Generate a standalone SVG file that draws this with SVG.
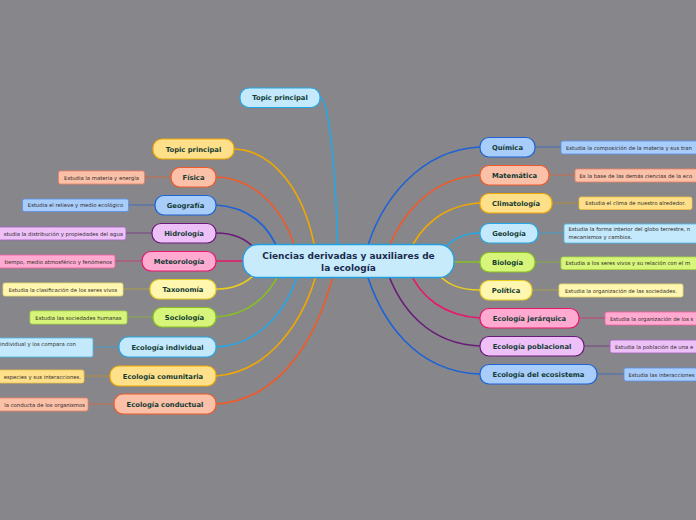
<svg xmlns="http://www.w3.org/2000/svg" width="696" height="520" viewBox="0 0 696 520">
<style>
.bg{fill:#87878b}
.c{fill:none;stroke-width:1.6;stroke-linecap:round}
.d{fill:none;stroke-width:0.9;opacity:0.7}
.n{stroke-width:1.2}
.nt{font-family:"DejaVu Sans",Verdana,sans-serif;font-weight:bold;font-size:6.8px;fill:#123b34;text-anchor:middle}
.dt{font-family:"DejaVu Sans",Verdana,sans-serif;font-size:5.3px;fill:#2e2a2a}
.ds{stroke-width:0.8}
.blue{fill:#a9cdfa;stroke:#1d62d6}
.red{fill:#fbc0a8;stroke:#f05a28}
.org{fill:#ffe08a;stroke:#f0a800}
.cyan{fill:#c4e9fc;stroke:#22a8e8}
.grn{fill:#d7f57a;stroke:#88c020}
.yel{fill:#fff6b0;stroke:#e8cc20}
.pnk{fill:#ffabd1;stroke:#e8166c}
.pur{fill:#edc0f8;stroke:#6a1b7a}
.dblue{fill:#a9cdfa;stroke:#5a8fe8}
.dred{fill:#fbc0a8;stroke:#f08060}
.dorg{fill:#ffe08a;stroke:#f0c040}
.dcyan{fill:#c4e9fc;stroke:#4ab8ec}
.dgrn{fill:#d7f57a;stroke:#a8d840}
.dyel{fill:#fff6b0;stroke:#e6dc70}
.dpnk{fill:#ffabd1;stroke:#f060a0}
.dpur{fill:#edc0f8;stroke:#a060b8}
</style>
<rect class="bg" x="0" y="0" width="696" height="520"/>
<g id="connectors">
<path class="c" stroke="#22a8e8" d="M320,97 C330,100 336,180 338,255"/>
<path class="c" stroke="#f0a800" d="M234,149 C272,150 306,190 316,255"/>
<path class="c" stroke="#f05a28" d="M216,177 C255,178 286,210 297,255"/>
<path class="c" stroke="#1d62d6" d="M216,205 C248,207 270,225 280,255"/>
<path class="c" stroke="#6a1b7a" d="M216,233 C236,233 250,240 260,255"/>
<path class="c" stroke="#e8166c" d="M216,261 L255,261"/>
<path class="c" stroke="#e8cc20" d="M216,289 C236,289 250,282 260,268"/>
<path class="c" stroke="#88c020" d="M216,317 C250,315 270,295 282,268"/>
<path class="c" stroke="#22a8e8" d="M216,347 C260,345 288,310 300,268"/>
<path class="c" stroke="#f0a800" d="M216,376 C270,372 305,320 318,268"/>
<path class="c" stroke="#f05a28" d="M216,404 C285,400 320,330 335,268"/>
<path class="c" stroke="#1d62d6" d="M480,147 C420,150 380,200 365,255"/>
<path class="c" stroke="#f05a28" d="M480,175 C430,178 400,215 386,255"/>
<path class="c" stroke="#f0a800" d="M480,203 C445,205 420,225 408,255"/>
<path class="c" stroke="#22a8e8" d="M480,233 C465,233 450,238 440,255"/>
<path class="c" stroke="#88c020" d="M445,262 L480,262"/>
<path class="c" stroke="#e8cc20" d="M480,290 C460,290 445,285 433,268"/>
<path class="c" stroke="#e8166c" d="M480,318 C445,316 420,298 408,268"/>
<path class="c" stroke="#6a1b7a" d="M480,346 C430,344 400,310 386,268"/>
<path class="c" stroke="#1d62d6" d="M480,374 C415,372 380,320 365,268"/>
<path class="d" stroke="#f05a28" d="M144,177 H171"/>
<path class="d" stroke="#1d62d6" d="M128,205 H155"/>
<path class="d" stroke="#6a1b7a" d="M126,233 H152"/>
<path class="d" stroke="#e8166c" d="M115,261 H142"/>
<path class="d" stroke="#c8b020" d="M123,289 H150"/>
<path class="d" stroke="#88c020" d="M127,317 H153"/>
<path class="d" stroke="#22a8e8" d="M93,347 H119"/>
<path class="d" stroke="#d09000" d="M84,376 H110"/>
<path class="d" stroke="#f05a28" d="M88,404 H114"/>
<path class="d" stroke="#1d62d6" d="M535,147 H561"/>
<path class="d" stroke="#f05a28" d="M549,175 H575"/>
<path class="d" stroke="#d09000" d="M552,203 H579"/>
<path class="d" stroke="#22a8e8" d="M538,233 H564"/>
<path class="d" stroke="#88c020" d="M535,262 H561"/>
<path class="d" stroke="#c8b020" d="M532,290 H559"/>
<path class="d" stroke="#e8166c" d="M579,318 H605"/>
<path class="d" stroke="#6a1b7a" d="M584,346 H610"/>
<path class="d" stroke="#1d62d6" d="M597,374 H624"/>
</g>
<g id="main">
<rect x="243" y="244.5" width="211" height="33" rx="15" fill="#c8ebfb" stroke="#1f9fe0" stroke-width="1.3"/>
<text font-family="'DejaVu Sans',Verdana,sans-serif" font-weight="bold" font-size="9px" fill="#1a2b50" text-anchor="middle"><tspan x="348.5" y="259">Ciencias derivadas y auxiliares de</tspan><tspan x="348.5" y="270.5">la ecología</tspan></text>
</g>
<g id="topic-top"><rect class="n cyan" x="240" y="88" width="80" height="19.5" rx="9"/><text class="nt" x="280" y="100">Topic principal</text></g>
<g id="topic-left"><rect class="n org" x="153" y="139" width="81" height="20" rx="9"/><text class="nt" x="193.5" y="151.5">Topic principal</text></g>
<g id="fisica"><rect class="n red" x="171" y="167.5" width="45" height="19.5" rx="9"/><text class="nt" x="193.5" y="179.5">Física</text></g>
<g id="geografia"><rect class="n blue" x="155" y="195.5" width="61" height="19.5" rx="9"/><text class="nt" x="185.5" y="207.5">Geografía</text></g>
<g id="hidrologia"><rect class="n pur" x="152" y="223.5" width="64" height="19.5" rx="9"/><text class="nt" x="184" y="235.5">Hidrología</text></g>
<g id="meteorologia"><rect class="n pnk" x="142" y="251.5" width="74" height="19.5" rx="9"/><text class="nt" x="179" y="263.5">Meteorología</text></g>
<g id="taxonomia"><rect class="n yel" x="150" y="279.5" width="66" height="19.5" rx="9"/><text class="nt" x="183" y="291.5">Taxonomía</text></g>
<g id="sociologia"><rect class="n grn" x="153" y="307.5" width="63" height="19.5" rx="9"/><text class="nt" x="184.5" y="319.5">Sociología</text></g>
<g id="eco-individual"><rect class="n cyan" x="119" y="337" width="97" height="20" rx="9"/><text class="nt" x="167.5" y="349.5">Ecología individual</text></g>
<g id="eco-comunitaria"><rect class="n org" x="110" y="366" width="106" height="20" rx="9"/><text class="nt" x="163" y="378.5">Ecología comunitaria</text></g>
<g id="eco-conductual"><rect class="n red" x="114" y="394" width="102" height="20" rx="9"/><text class="nt" x="165" y="406.5">Ecología conductual</text></g>
<g id="quimica"><rect class="n blue" x="480" y="137.5" width="55" height="19.5" rx="9"/><text class="nt" x="507.5" y="149.5">Química</text></g>
<g id="matematica"><rect class="n red" x="480" y="165.5" width="69" height="19.5" rx="9"/><text class="nt" x="514.5" y="177.5">Matemática</text></g>
<g id="climatologia"><rect class="n org" x="480" y="193.5" width="72" height="19.5" rx="9"/><text class="nt" x="516" y="205.5">Climatología</text></g>
<g id="geologia"><rect class="n cyan" x="480" y="223.5" width="58" height="19.5" rx="9"/><text class="nt" x="509" y="235.5">Geología</text></g>
<g id="biologia"><rect class="n grn" x="480" y="252.5" width="55" height="19.5" rx="9"/><text class="nt" x="507.5" y="264.5">Biología</text></g>
<g id="politica"><rect class="n yel" x="480" y="280.5" width="52" height="19.5" rx="9"/><text class="nt" x="506" y="292.5">Política</text></g>
<g id="eco-jerarquica"><rect class="n pnk" x="480" y="308.5" width="99" height="19.5" rx="9"/><text class="nt" x="529.5" y="320.5">Ecología jerárquica</text></g>
<g id="eco-poblacional"><rect class="n pur" x="480" y="336.5" width="104" height="19.5" rx="9"/><text class="nt" x="532" y="348.5">Ecología poblacional</text></g>
<g id="eco-ecosistema"><rect class="n blue" x="480" y="364.5" width="117" height="19.5" rx="9"/><text class="nt" x="538.5" y="376.5">Ecología del ecosistema</text></g>
<g id="d-fisica"><rect class="ds dred" x="58.5" y="171" width="86" height="13" rx="2"/><text class="dt" x="101.5" y="179.5" text-anchor="middle">Estudia la materia y energía</text></g>
<g id="d-geografia"><rect class="ds dblue" x="22.5" y="199" width="106" height="12.5" rx="2"/><text class="dt" x="75.5" y="207.3" text-anchor="middle">Estudia el relieve y medio ecológico</text></g>
<g id="d-hidrologia"><rect class="ds dpur" x="-5" y="227" width="131" height="13" rx="2"/><text class="dt" x="123" y="235.5" text-anchor="end">studia la distribución y propiedades del agua</text></g>
<g id="d-meteorologia"><rect class="ds dpnk" x="-5" y="255" width="120" height="13" rx="2"/><text class="dt" x="112" y="263.5" text-anchor="end">tiempo, medio atmosférico y fenómenos</text></g>
<g id="d-taxonomia"><rect class="ds dyel" x="3" y="283" width="120" height="13" rx="2"/><text class="dt" x="63" y="291.5" text-anchor="middle">Estudia la clasificación de los seres vivos</text></g>
<g id="d-sociologia"><rect class="ds dgrn" x="30" y="311" width="97" height="13" rx="2"/><text class="dt" x="78.5" y="319.5" text-anchor="middle">Estudia las sociedades humanas</text></g>
<g id="d-individual"><rect class="ds dcyan" x="-5" y="338" width="98" height="19" rx="2"/><text class="dt" x="0" y="345.5">individual y los compara con</text></g>
<g id="d-comunitaria"><rect class="ds dorg" x="-5" y="370" width="89" height="13" rx="2"/><text class="dt" x="81" y="378.5" text-anchor="end">especies y sus interacciones.</text></g>
<g id="d-conductual"><rect class="ds dred" x="-5" y="398" width="93" height="13" rx="2"/><text class="dt" x="85" y="406.5" text-anchor="end">la conducta de los organismos</text></g>
<g id="d-quimica"><rect class="ds dblue" x="561" y="141" width="140" height="13" rx="2"/><text class="dt" x="566" y="149.5">Estudia la composición de la materia y sus tran</text></g>
<g id="d-matematica"><rect class="ds dred" x="575" y="169" width="126" height="13" rx="2"/><text class="dt" x="579.5" y="177.5">Es la base de las demás ciencias de la eco</text></g>
<g id="d-climatologia"><rect class="ds dorg" x="579" y="197" width="113" height="12.5" rx="2"/><text class="dt" x="635.5" y="205.3" text-anchor="middle">Estudia el clima de nuestro alrededor.</text></g>
<g id="d-geologia"><rect class="ds dcyan" x="564" y="224" width="137" height="19" rx="2"/><text class="dt"><tspan x="568.5" y="231.3">Estudia la forma interior del globo terrestre, n</tspan><tspan x="568.5" y="239">mecanismos y cambios.</tspan></text></g>
<g id="d-biologia"><rect class="ds dgrn" x="561" y="257" width="140" height="12.5" rx="2"/><text class="dt" x="565.5" y="265.3">Estudia a los seres vivos y su relación con el m</text></g>
<g id="d-politica"><rect class="ds dyel" x="559" y="284" width="124" height="13" rx="2"/><text class="dt" x="621" y="292.5" text-anchor="middle">Estudia la organización de las sociedades.</text></g>
<g id="d-jerarquica"><rect class="ds dpnk" x="605" y="312" width="96" height="13" rx="2"/><text class="dt" x="610" y="320.5">Estudia la organización de los s</text></g>
<g id="d-poblacional"><rect class="ds dpur" x="610" y="340" width="91" height="13" rx="2"/><text class="dt" x="615" y="348.5">Estudia la población de una e</text></g>
<g id="d-ecosistema"><rect class="ds dblue" x="624" y="368" width="77" height="13" rx="2"/><text class="dt" x="628.5" y="376.5">Estudia las interacciones</text></g>
</svg>
